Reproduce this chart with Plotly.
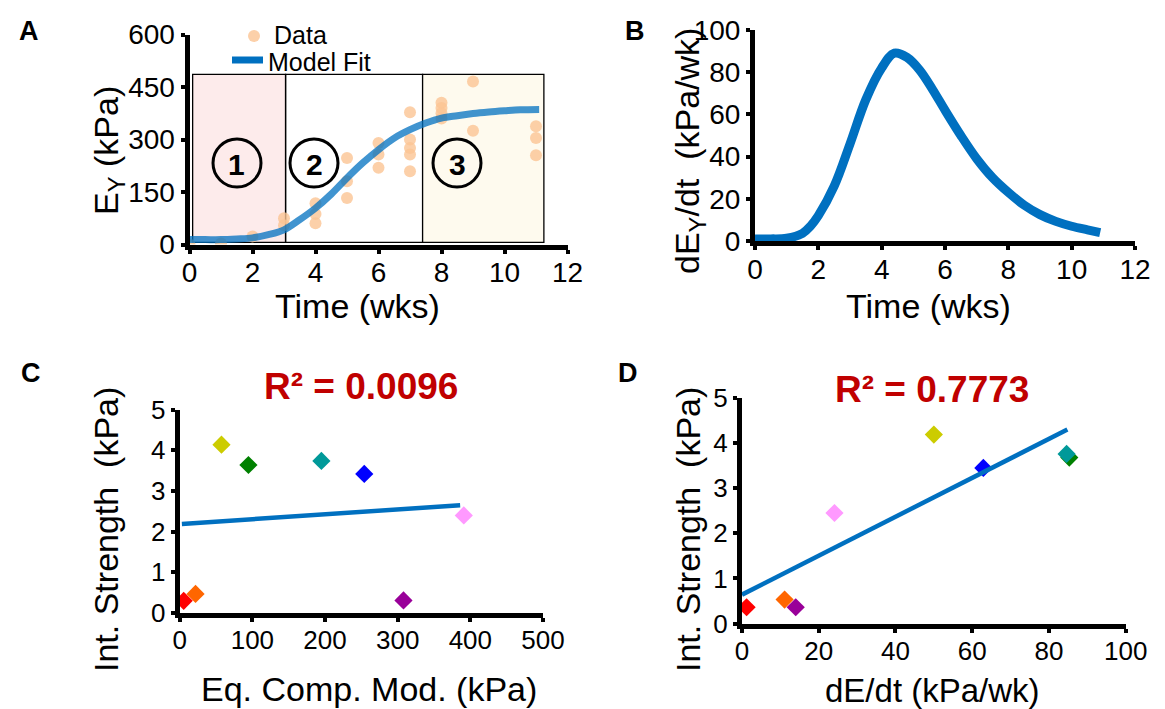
import plotly.graph_objects as go

W, H = 1165, 709

# ---------------- Data ----------------
# Panel A: measured yield modulus (kPa) vs time (wks)
data_t = [0, 1, 2, 3, 3, 4, 4, 4, 5, 5, 5, 6, 6, 6, 7, 7, 7, 7, 7, 8, 8, 8, 8, 9, 9, 11, 11, 11]
data_e = [0, 3, 23, 75, 55, 118, 87, 61, 247, 181, 133, 290, 257, 219, 378, 300, 276, 257, 209,
          405, 390, 375, 360, 466, 325, 338, 304, 255]
# Panel A: model fit
fit_t = [0, 0.5, 1, 1.5, 2, 2.5, 3, 3.5, 4, 4.5, 5, 5.5, 6, 6.5, 7, 7.5, 8, 8.5, 9, 9.5, 10, 10.5, 11.1]
fit_e = [14, 14, 14, 16, 19, 28, 42, 71, 104, 144, 190, 233, 271, 304, 328, 347, 361, 368, 374, 378.5, 382, 385, 386]
# Phase boundaries (wks) and box top/bottom (kPa)
phase_bounds = [0.1, 3.05, 7.4, 11.25]
phase_top = 486
phase_bottom = 6

# Panel B: rate dE/dt (kPa/wk)
rate_t = [0, 0.5, 1, 1.5, 1.75, 2, 2.5, 3, 3.5, 4, 4.4, 4.8, 5.2, 5.6, 6, 6.5, 7, 7.5, 8, 8.5, 9, 9.5, 10, 10.5, 10.9]
rate_v = [1, 1, 1.3, 3.6, 7, 12, 26, 46, 67, 82, 89, 87, 81, 72, 62, 50, 39, 30, 23, 17, 12.5, 9.3, 7, 5.3, 4]

# Panels C/D: per-sample values
sample_colors = ["#FF0000", "#FF6600", "#CCCC00", "#008000", "#009999", "#0000FF", "#990099", "#FF99FF"]
eq_comp_mod = [5.5, 21.8, 57.5, 94.6, 195, 254, 308, 391]
max_rate = [1.2, 11.1, 50.0, 85.3, 84.6, 62.9, 14.0, 24.1]
int_strength_c = [0.30, 0.47, 4.14, 3.64, 3.74, 3.42, 0.31, 2.40]
int_strength_d = [0.36, 0.53, 4.19, 3.68, 3.76, 3.45, 0.36, 2.45]
fitC_x = [3, 386]
fitC_y = [2.19, 2.65]
fitD_x = [0, 84.8]
fitD_y = [0.64, 4.30]

BLUE = "#0070C0"
FONT = "Arial, Liberation Sans, sans-serif"


def px(x):
    return x / W


def py(y):
    return 1 - y / H


fig = go.Figure()

# Panel A traces
fig.add_trace(go.Scatter(x=data_t, y=data_e, mode="markers", xaxis="x", yaxis="y",
                         marker=dict(size=12, color="rgba(251,196,148,0.8)"), showlegend=False))
fig.add_trace(go.Scatter(x=fit_t, y=fit_e, mode="lines", xaxis="x", yaxis="y", line_shape="spline",
                         line=dict(color="rgba(0,112,192,0.75)", width=7), showlegend=False))
# Panel B
fig.add_trace(go.Scatter(x=rate_t, y=rate_v, mode="lines", xaxis="x2", yaxis="y2", line_shape="spline",
                         line=dict(color=BLUE, width=9, smoothing=1.0), showlegend=False))
# Panel C
fig.add_trace(go.Scatter(x=eq_comp_mod, y=int_strength_c, mode="markers", xaxis="x3", yaxis="y3",
                         marker=dict(symbol="diamond", size=14, color=sample_colors), showlegend=False))
fig.add_trace(go.Scatter(x=fitC_x, y=fitC_y, mode="lines", xaxis="x3", yaxis="y3",
                         line=dict(color=BLUE, width=4.5), showlegend=False))
# Panel D
fig.add_trace(go.Scatter(x=max_rate, y=int_strength_d, mode="markers", xaxis="x4", yaxis="y4",
                         marker=dict(symbol="diamond", size=14, color=sample_colors), showlegend=False))
fig.add_trace(go.Scatter(x=fitD_x, y=fitD_y, mode="lines", xaxis="x4", yaxis="y4",
                         line=dict(color=BLUE, width=4.5), showlegend=False))


def axis_style(domain, rng, tickvals, anchor, size, standoff=0):
    return dict(domain=domain, range=rng, tickvals=tickvals, anchor=anchor,
                showline=True, linewidth=5, linecolor="black", mirror=False,
                ticks="outside", ticklen=4, tickwidth=4, tickcolor="black",
                ticklabelstandoff=standoff,
                showgrid=False, zeroline=False, automargin=False,
                tickfont=dict(family=FONT, size=size, color="black"))


fig.update_layout(
    width=W, height=H, margin=dict(l=0, r=0, t=0, b=0),
    paper_bgcolor="white", plot_bgcolor="rgba(0,0,0,0)", showlegend=False,
    xaxis=axis_style([px(181.5), px(559.5)], [0, 12], list(range(0, 13, 2)), "y", 28, -5),
    yaxis=axis_style([py(236.5), py(26.5)], [0, 600], [0, 150, 300, 450, 600], "x", 28),
    xaxis2=axis_style([px(747), px(1127)], [0, 12], list(range(0, 13, 2)), "y2", 28, -5),
    yaxis2=axis_style([py(233), py(22)], [0, 100], list(range(0, 101, 20)), "x2", 28),
    xaxis3=axis_style([px(171.7), px(535)], [0, 500], list(range(0, 501, 100)), "y3", 26, -4),
    yaxis3=axis_style([py(605), py(401.7)], [0, 5], list(range(0, 6)), "x3", 26),
    xaxis4=axis_style([px(734), px(1117.7)], [0, 100], list(range(0, 101, 20)), "y4", 26, -4),
    yaxis4=axis_style([py(615.5), py(390)], [0, 5], list(range(0, 6)), "x4", 26),
)

shapes = []
# Phase boxes in panel A
fills = ["#FDEBEB", "rgba(255,255,255,0)", "#FEFAEE"]
for i in range(3):
    shapes.append(dict(type="rect", xref="x", yref="y", x0=phase_bounds[i], x1=phase_bounds[i + 1],
                       y0=phase_bottom, y1=phase_top, fillcolor=fills[i],
                       line=dict(color="black", width=1.3), layer="below"))
# Circled phase numbers
circle_centers = [(229, 155), (306, 155), (449, 155)]
for cx, cy in circle_centers:
    shapes.append(dict(type="circle", xref="paper", yref="paper",
                       x0=px(cx - 24), x1=px(cx + 24), y0=py(cy + 24), y1=py(cy - 24),
                       line=dict(color="black", width=3), fillcolor="rgba(0,0,0,0)"))
# Custom legend symbols
shapes.append(dict(type="circle", xref="paper", yref="paper",
                   x0=px(240), x1=px(252), y0=py(34), y1=py(22),
                   fillcolor="rgba(251,196,148,0.8)", line=dict(width=0)))
shapes.append(dict(type="line", xref="paper", yref="paper", x0=px(224), x1=px(255), y0=py(52), y1=py(52),
                   line=dict(color=BLUE, width=7)))
# Bottom rule
shapes.append(dict(type="line", xref="paper", yref="paper", x0=px(63), x1=px(1149), y0=py(707), y1=py(707),
                   line=dict(color="black", width=1.5)))
fig.update_layout(shapes=shapes)

ann = []


def add_text(text, x, y, size, bold=False, color="black", angle=0, xanchor="center"):
    if bold:
        text = "<b>" + text + "</b>"
    ann.append(dict(text=text, x=px(x), y=py(y), xref="paper", yref="paper", showarrow=False,
                    xanchor=xanchor, yanchor="middle", textangle=angle,
                    font=dict(family=FONT, size=size, color=color)))


# Panel letters
add_text("A", 21, 23, 27, bold=True)
add_text("B", 627, 23, 27, bold=True)
add_text("C", 23, 365, 27, bold=True)
add_text("D", 620, 365, 27, bold=True)
# Legend text
add_text("Data", 264, 27, 25, xanchor="left")
add_text("Model Fit", 258, 54, 25, xanchor="left")
# Phase numbers
for i, (cx, cy) in enumerate(circle_centers):
    add_text(str(i + 1), cx, cy + 1, 30, bold=True)
# Axis titles
add_text("Time (wks)", 349, 298, 34)
add_text("E<sub>Y</sub> (kPa)", 100, 143, 34, angle=-90)
add_text("Time (wks)", 920, 298, 34)
add_text("dE<sub>Y</sub>/dt  (kPa/wk)", 681, 143, 34, angle=-90)
add_text("Int. Strength  (kPa)", 98, 522, 34, angle=-90)
add_text("Eq. Comp. Mod. (kPa)", 361, 681, 34)
add_text("Int. Strength  (kPa)", 680, 522, 34, angle=-90)
add_text("dE/dt (kPa/wk)", 925, 682, 33)
# R^2
add_text("R² = 0.0096", 353, 379, 37, bold=True, color="#C00000")
add_text("R² = 0.7773", 924, 381, 37, bold=True, color="#C00000")

fig.update_layout(annotations=ann)

fig.write_html("out.html")
